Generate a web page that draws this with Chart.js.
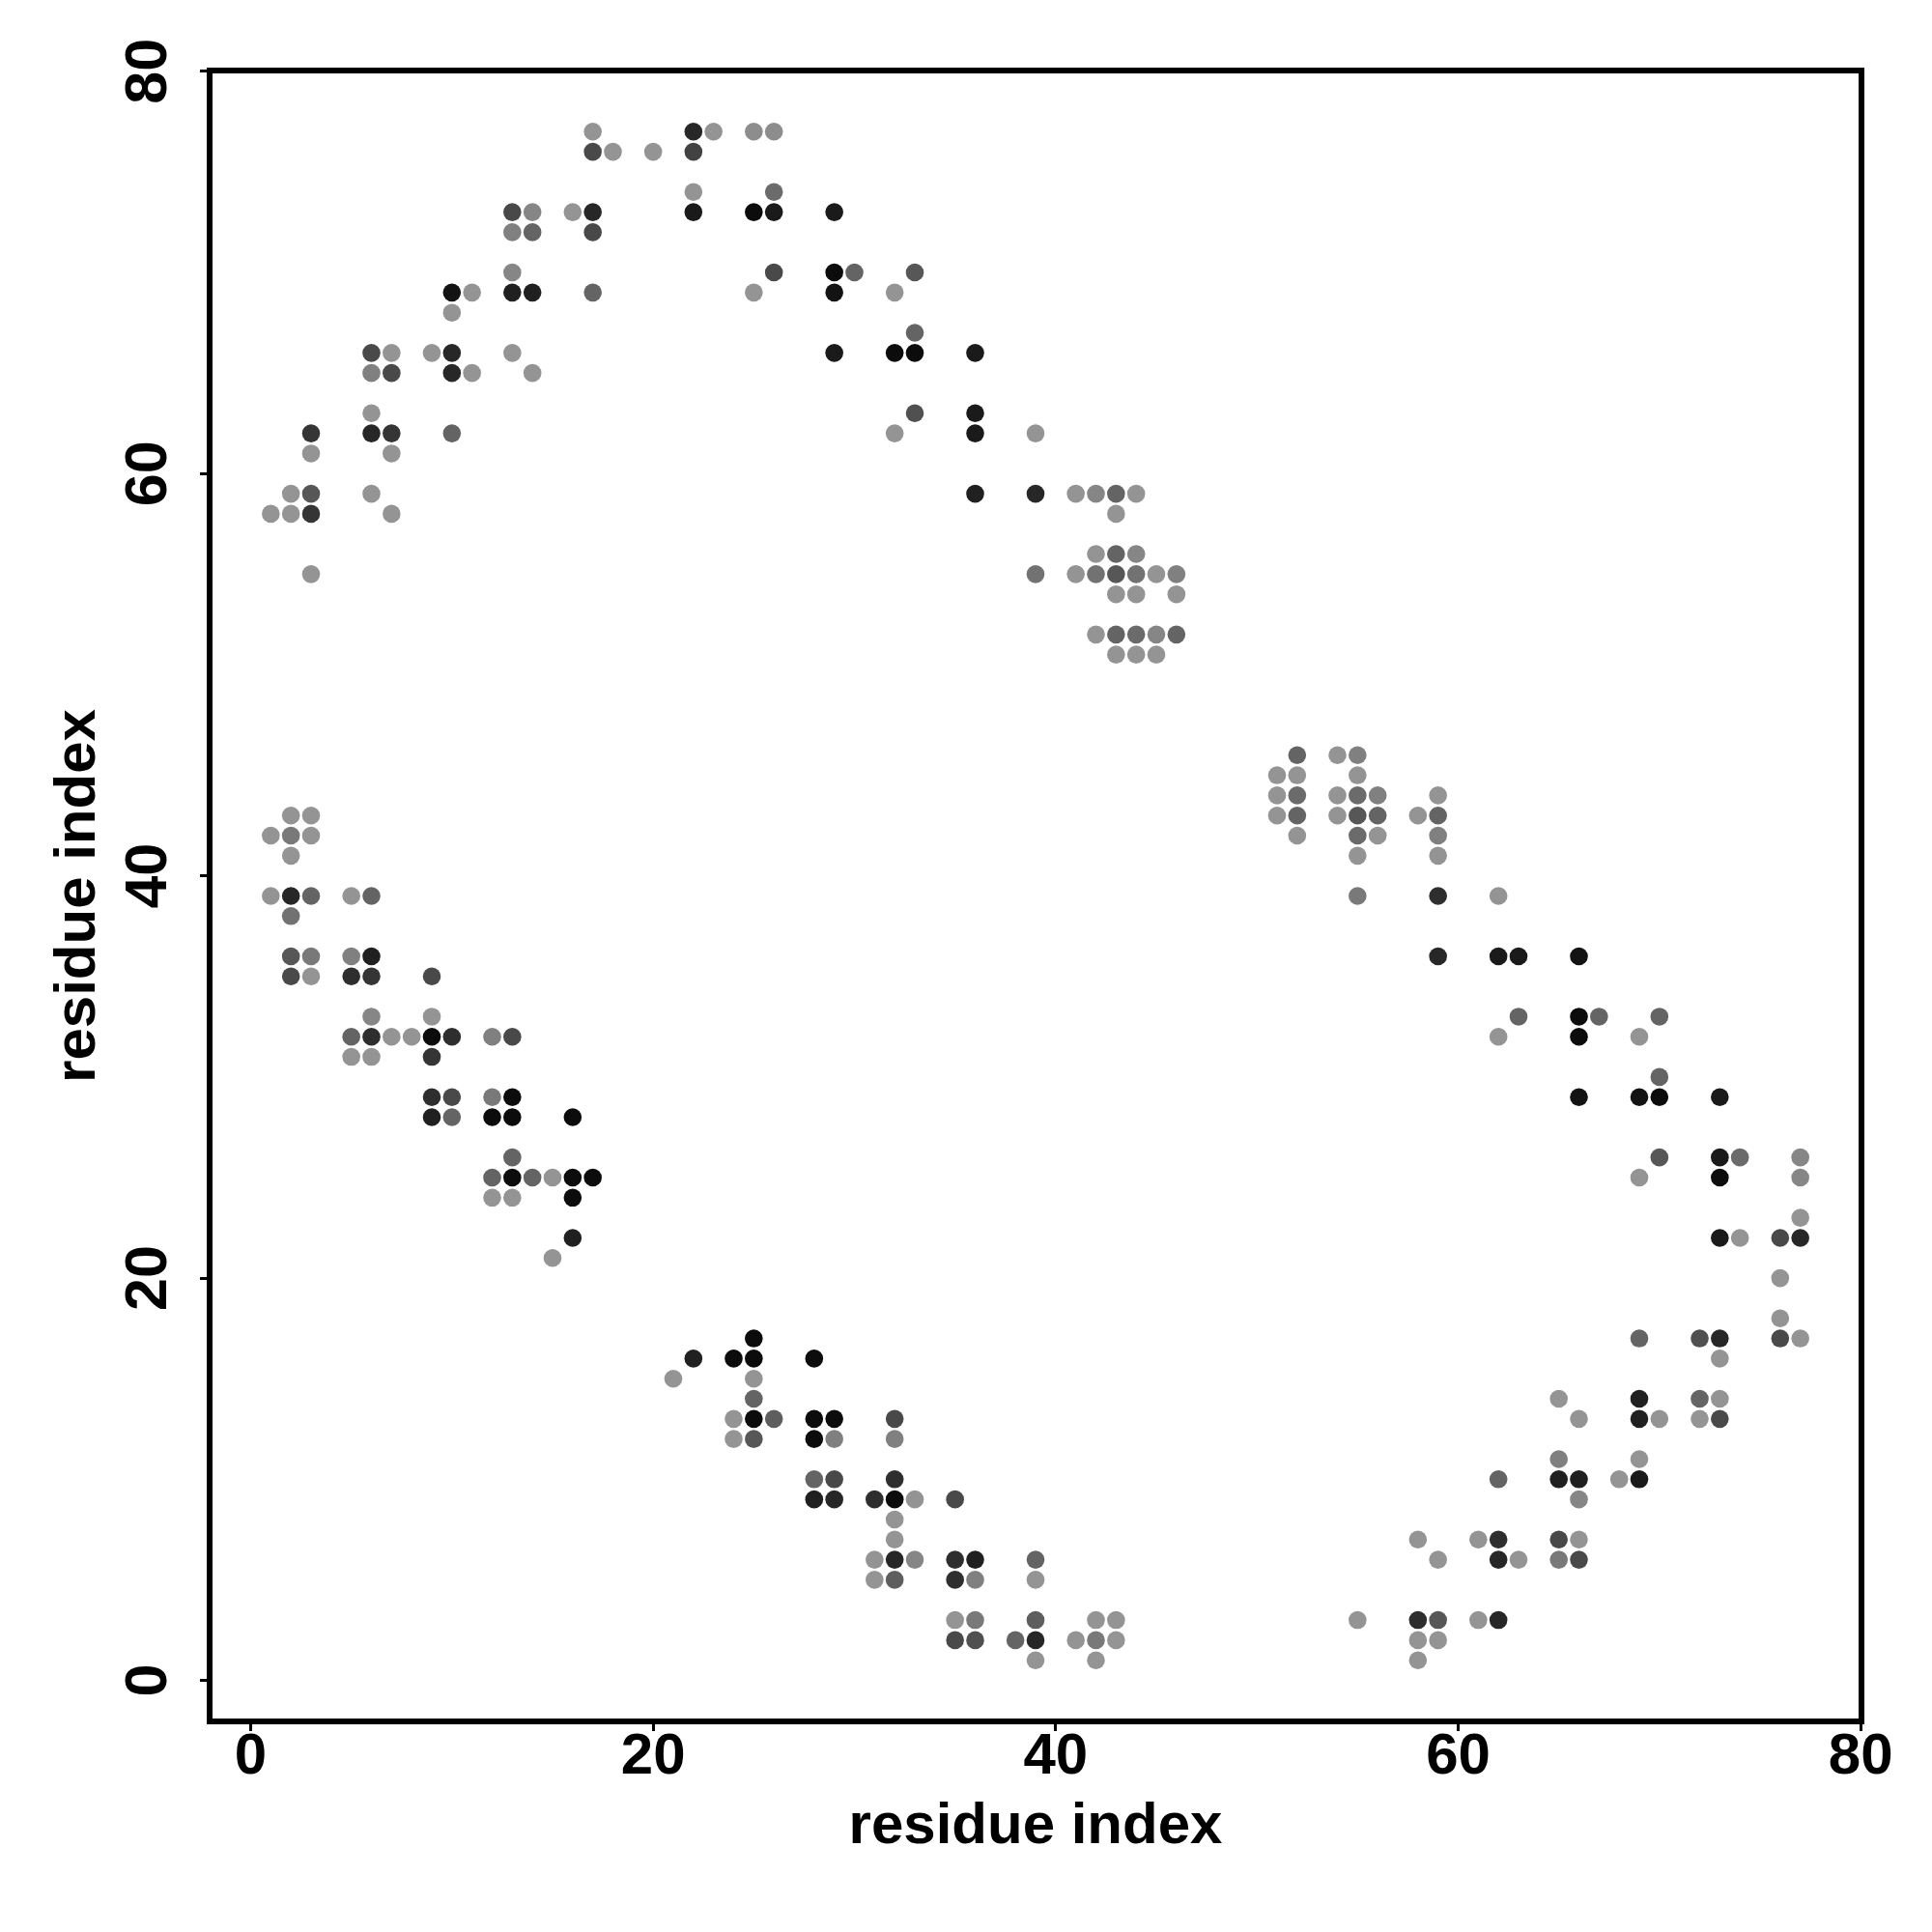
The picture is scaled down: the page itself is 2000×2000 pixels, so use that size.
<!DOCTYPE html>
<html>
<head>
<meta charset="utf-8">
<script src="https://cdn.jsdelivr.net/npm/chart.js@4.4.1/dist/chart.umd.min.js"></script>
<style>
html, body { margin: 0; background: #fff; }
</style>
</head>
<body>
<canvas id="contactMap" width="2000" height="2000"></canvas>
<script>
// [x residue, y residue, contact strength 0..1]
const upperLeft = [
  [1,58,0],[2,58,0],[3,58,.7],[2,59,0],[3,59,.45],[3,55,0],[3,62,.7],[3,61,0],
  [6,66,.55],[7,66,0],[9,66,0],[10,66,.8],[13,66,0],
  [6,65,.15],[7,65,.55],[10,65,.8],[11,65,0],[14,65,0],
  [6,63,0],[6,62,.8],[7,62,.7],[10,62,.35],[7,61,0],[6,59,0],[7,58,0],
  [10,69,.95],[11,69,0],[13,69,.85],[14,69,.85],[17,69,.35],[10,68,0],[13,70,.1],
  [13,72,.15],[14,72,.35],[17,72,.55],[13,73,.55],[14,73,.1],[16,73,0],[17,73,.8],
  [17,77,0],[17,76,.55],[18,76,0],[20,76,0]
];
const upperRight = [
  [22,77,.8],[23,77,0],[25,77,.05],[26,77,.05],[22,76,.6],[22,74,0],[26,74,.3],
  [22,73,.9],[25,73,1],[26,73,.9],[29,73,.9],
  [26,70,.55],[29,70,1],[30,70,.35],[33,70,.45],[25,69,0],[29,69,.95],[32,69,0],
  [33,67,.35],[29,66,.9],[32,66,1],[33,66,1],[36,66,.9],
  [33,63,.5],[36,63,.9],[32,62,0],[36,62,.9],[39,62,0],
  [36,59,.85],[39,59,.8],[41,59,0],[42,59,.1],[43,59,.35],[44,59,0],[43,58,0],
  [42,56,0],[43,56,.35],[44,56,.1],
  [39,55,.25],[41,55,0],[42,55,.25],[43,55,.45],[44,55,.25],[45,55,0],[46,55,.15],
  [43,54,0],[44,54,0],[46,54,0],
  [42,52,0],[43,52,.35],[44,52,.3],[45,52,.1],[46,52,.35],[43,51,0],[44,51,0],[45,51,0]
];
const lowerLeft = [
  [2,43,0],[3,43,0],[1,42,0],[2,42,.2],[3,42,0],[2,41,0],
  [1,39,0],[2,39,.8],[3,39,.35],[5,39,0],[6,39,.35],[2,38,.25],
  [2,36,.45],[3,36,.2],[5,36,.15],[6,36,.85],
  [2,35,.55],[3,35,0],[5,35,.75],[6,35,.7],[9,35,.55],
  [6,33,.1],[9,33,0],
  [5,32,.35],[6,32,.75],[7,32,0],[8,32,0],[9,32,1],[10,32,.75],[12,32,.15],[13,32,.55],
  [5,31,0],[6,31,0],[9,31,.7],
  [9,29,.75],[10,29,.55],[12,29,.2],[13,29,1],
  [9,28,.85],[10,28,.35],[12,28,1],[13,28,1],[16,28,1],
  [13,26,.35],[12,25,.35],[13,25,1],[14,25,.35],[15,25,0],[16,25,1],[17,25,1],
  [12,24,0],[13,24,0],[16,24,1],[16,22,.85],[15,21,0]
];
const lowerMid = [
  [25,17,1],[22,16,.85],[24,16,1],[25,16,1],[28,16,1],[21,15,0],[25,15,0],[25,14,.35],
  [24,13,0],[25,13,1],[26,13,.4],[28,13,1],[29,13,1],[32,13,.55],
  [24,12,0],[25,12,.45],[28,12,1],[29,12,.15],[32,12,.15],
  [28,10,.35],[29,10,.55],[32,10,.75],
  [28,9,.85],[29,9,.8],[31,9,.75],[32,9,1],[33,9,0],[35,9,.55],
  [32,8,0],[32,7,0],
  [31,6,0],[32,6,.8],[33,6,.1],[35,6,.75],[36,6,.85],[39,6,.35],
  [31,5,0],[32,5,.4],[35,5,.75],[36,5,.15],[39,5,0],
  [35,3,0],[36,3,.2],[39,3,.4],[42,3,0],[43,3,0],
  [35,2,.55],[36,2,.5],[38,2,.35],[39,2,.8],[41,2,0],[42,2,.2],[43,2,0],
  [39,1,0],[42,1,0]
];
const rightArc = [
  [52,46,.35],[54,46,0],[55,46,.15],[51,45,0],[52,45,0],[55,45,0],
  [51,44,0],[52,44,.3],[54,44,0],[55,44,.3],[56,44,.15],[59,44,0],
  [51,43,0],[52,43,.35],[54,43,0],[55,43,.45],[56,43,.35],[58,43,0],[59,43,.35],
  [52,42,0],[55,42,.3],[56,42,0],[59,42,.15],[55,41,0],[59,41,0],
  [55,39,.2],[59,39,.75],[62,39,0],
  [59,36,.8],[62,36,.9],[63,36,.9],[66,36,.95],
  [63,33,.35],[66,33,1],[67,33,.35],[70,33,.35],[62,32,0],[66,32,1],[69,32,0],
  [70,30,.35],[66,29,.95],[69,29,.95],[70,29,1],[73,29,.9],
  [70,26,.45],[73,26,.9],[74,26,.3],[77,26,.1],[69,25,0],[73,25,1],[77,25,.1],
  [77,23,0],[73,22,.9],[74,22,0],[76,22,.55],[77,22,.8],[76,20,0],[76,18,0],
  [69,17,.35],[72,17,.5],[73,17,.8],[76,17,.55],[77,17,0],[73,16,0]
];
const lowerRight = [
  [65,14,0],[66,13,0],[69,14,.85],[69,13,.85],[70,13,0],[72,14,.35],[73,14,0],[72,13,0],[73,13,.55],
  [65,11,.15],[69,11,0],
  [62,10,.35],[65,10,.85],[66,10,.85],[68,10,0],[69,10,.9],[66,9,.1],
  [58,7,0],[61,7,0],[62,7,.75],[65,7,.55],[66,7,0],
  [59,6,0],[62,6,.8],[63,6,0],[65,6,.2],[66,6,.55],
  [55,3,0],[58,3,.75],[59,3,.45],[61,3,0],[62,3,.8],[58,2,0],[59,2,0],[58,1,0]
];
const tickValues = [0, 20, 40, 60, 80];
const axisLabel = "residue index";

const contacts = [].concat(upperLeft, upperRight, lowerLeft, lowerMid, rightArc, lowerRight);

// stronger contact -> darker dot
function shade(s) {
  const g = Math.round(148 - s * 136);
  return `rgb(${g},${g},${g})`;
}

const FONT = '"Liberation Sans", Arial, sans-serif';

const frameAndYLabels = {
  id: "frameAndYLabels",
  afterDraw(chart) {
    const ctx = chart.ctx;
    const a = chart.chartArea;
    ctx.save();
    ctx.strokeStyle = "#000";
    ctx.lineWidth = 6;
    ctx.strokeRect(a.left, a.top, a.right - a.left, a.bottom - a.top);
    // y tick labels read bottom-to-top like the original
    const y = chart.scales.y;
    ctx.fillStyle = "#000";
    ctx.font = "bold 61px " + FONT;
    ctx.textAlign = "center";
    ctx.textBaseline = "alphabetic";
    y.ticks.forEach(t => {
      const py = y.getPixelForValue(t.value);
      ctx.save();
      ctx.translate(172, py);
      ctx.rotate(-Math.PI / 2);
      ctx.fillText(String(t.value), 0, 0);
      ctx.restore();
    });
    ctx.restore();
  }
};

new Chart(document.getElementById("contactMap"), {
  type: "scatter",
  data: {
    datasets: [{
      data: contacts.map(c => ({ x: c[0], y: c[1] })),
      pointBackgroundColor: contacts.map(c => shade(c[2])),
      pointBorderWidth: 0,
      pointRadius: 9.3,
      pointHoverRadius: 9.3
    }]
  },
  options: {
    responsive: false,
    animation: false,
    devicePixelRatio: 1,
    layout: { padding: { left: 0, top: 73, right: 73, bottom: 0 } },
    plugins: { legend: { display: false }, tooltip: { enabled: false } },
    scales: {
      x: {
        type: "linear",
        position: "bottom",
        min: -2.04,
        max: 80.04,
        afterBuildTicks: s => { s.ticks = tickValues.map(v => ({ value: v })); },
        afterFit: s => { s.height = 218; },
        ticks: {
          includeBounds: false,
          color: "#000",
          padding: -9,
          font: { family: FONT, size: 60, weight: "bold" }
        },
        grid: { drawOnChartArea: false, drawTicks: true, tickLength: 10, tickWidth: 3, tickColor: "#000" },
        border: { display: false },
        title: {
          display: true,
          text: axisLabel,
          color: "#000",
          padding: { top: 0, bottom: 73 },
          font: { family: FONT, size: 60, weight: "bold" }
        }
      },
      y: {
        type: "linear",
        min: -2.04,
        max: 80.04,
        afterBuildTicks: s => { s.ticks = tickValues.map(v => ({ value: v })); },
        afterFit: s => { s.width = 217; },
        ticks: { display: false, includeBounds: false },
        grid: { drawOnChartArea: false, drawTicks: true, tickLength: 10, tickWidth: 3, tickColor: "#000" },
        border: { display: false },
        title: {
          display: true,
          text: axisLabel,
          color: "#000",
          padding: { top: 45, bottom: 0 },
          font: { family: FONT, size: 60, weight: "bold" }
        }
      }
    }
  },
  plugins: [frameAndYLabels]
});
</script>
</body>
</html>
